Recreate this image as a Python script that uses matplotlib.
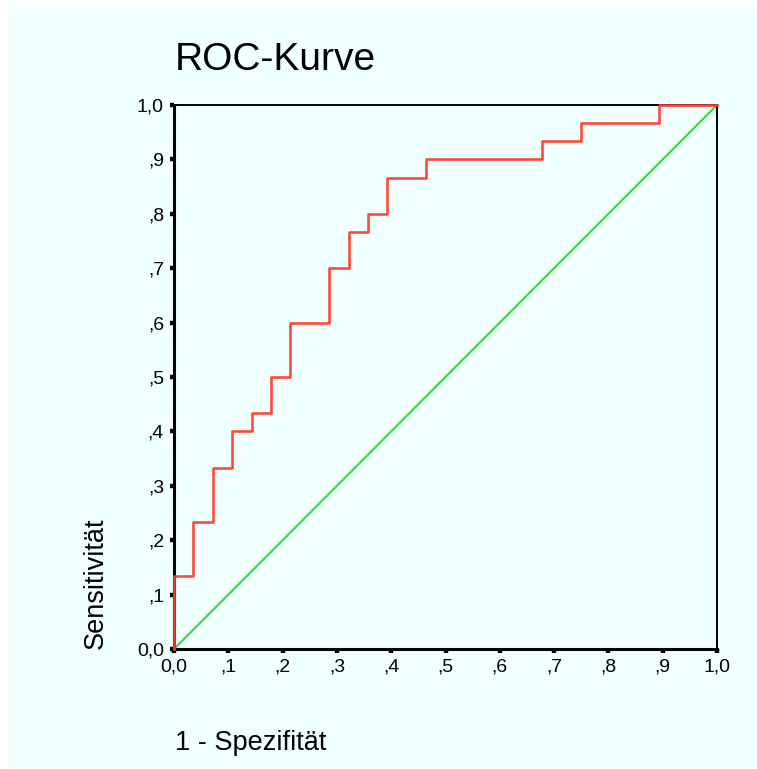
import matplotlib
matplotlib.use("Agg")
import matplotlib.pyplot as plt
from matplotlib.patches import Rectangle

plt.rcParams['font.family'] = ['Liberation Sans', 'DejaVu Sans']

# ROC step vertices (1 - specificity, sensitivity)
fpr = [0.0, 0.0, 0.0357, 0.0714, 0.1071, 0.1429, 0.1786, 0.2143, 0.2857,
       0.3214, 0.3571, 0.3929, 0.4643, 0.6786, 0.75, 0.8929, 1.0]
tpr = [0.0, 0.1333, 0.2333, 0.3333, 0.4, 0.4333, 0.5, 0.6, 0.7,
       0.7667, 0.8, 0.8667, 0.9, 0.9333, 0.9667, 1.0, 1.0]
ref_x = [0.0, 1.0]
ref_y = [0.0, 1.0]
ticks = [0.0, 0.1, 0.2, 0.3, 0.4, 0.5, 0.6, 0.7, 0.8, 0.9, 1.0]
tick_labels = ['0,0', ',1', ',2', ',3', ',4', ',5', ',6', ',7', ',8', ',9', '1,0']

title = 'ROC-Kurve'
xlabel = '1 - Spezifität'
ylabel = 'Sensitivität'

bg = '#F0FFFF'
W, H = 757, 769
fig = plt.figure(figsize=(W / 100, H / 100), dpi=100, facecolor='white')
fig.patches.append(Rectangle((9 / W, 1 / H), (W - 9) / W, (H - 8) / H,
                             transform=fig.transFigure, facecolor=bg,
                             edgecolor='none', zorder=-10))

ax = fig.add_axes([174 / W, 1 - 649 / H, (717 - 174) / W, (649 - 105) / H])
ax.set_zorder(5)
ax.set_facecolor(bg)
ax.set_xlim(0, 1)
ax.set_ylim(0, 1)

ax.plot(ref_x, ref_y, color='#33DD33', lw=1.5, zorder=2, clip_on=False)
ax.step(fpr, tpr, where='post', color='#FF4030', lw=1.9, zorder=4,
        clip_on=False, alpha=0.95)

ax.set_xticks(ticks)
ax.set_yticks(ticks)
ax.set_xticklabels(tick_labels)
ax.set_yticklabels(tick_labels)
ax.tick_params(axis='both', direction='out', length=3.2, width=3.2,
               color='black', labelsize=14)
ax.tick_params(axis='x', pad=4)
ax.tick_params(axis='y', pad=4)

for s in ['left', 'bottom']:
    ax.spines[s].set_linewidth(2.2)
for s in ['top', 'right']:
    ax.spines[s].set_linewidth(1.4)
for s in ax.spines.values():
    s.set_color('black')
    s.set_zorder(3)

fig.text(175 / W, 1 - 70.5 / H, title, fontsize=28, ha='left', va='baseline')
fig.text(175 / W, 1 - 750 / H, xlabel, fontsize=19.5, ha='left', va='baseline')
fig.text(103 / W, 1 - 649 / H, ylabel, fontsize=19.5, rotation=90,
         rotation_mode='anchor', ha='left', va='baseline')

fig.savefig('out.png', dpi=100, facecolor='white')
